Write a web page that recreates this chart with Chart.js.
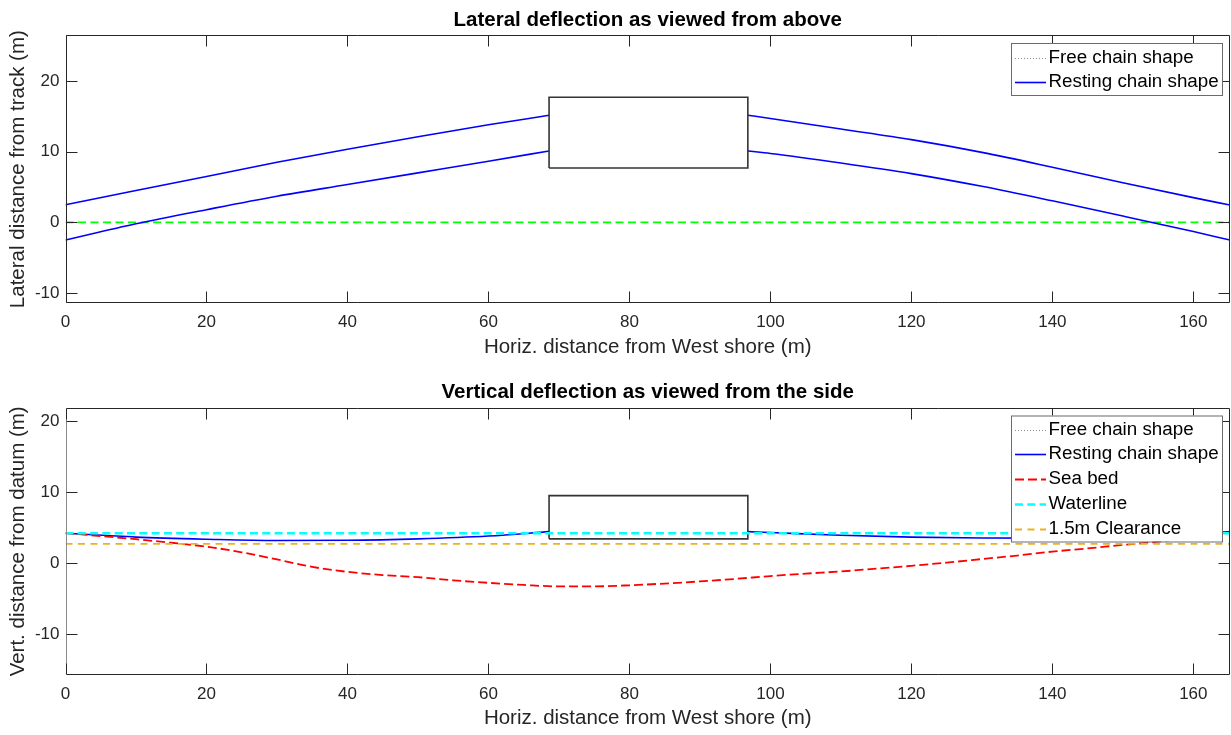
<!DOCTYPE html>
<html><head><meta charset="utf-8">
<script src="https://cdn.jsdelivr.net/npm/chart.js@4.4.1/dist/chart.umd.min.js"></script>
<style>
html,body{margin:0;padding:0;background:#fff;overflow:hidden}
#wrap{position:relative;width:1231px;height:735px;background:#fff}
canvas{position:absolute;left:0}
#c1{top:0}
#c2{top:368px}
</style></head><body>
<div id="wrap">
<canvas id="c1" width="1231" height="368"></canvas>
<canvas id="c2" width="1231" height="367"></canvas>
</div>
<script>
// ---------- data ----------
const X_MIN = 0, X_MAX = 165.2;
const xTicks = [0, 20, 40, 60, 80, 100, 120, 140, 160];
const yTicksTop = [-10, 0, 10, 20];
const yTicksBottom = [-10, 0, 10, 20];
const yRangeTop = [-11.44, 26.5];
const yRangeBottom = [-15.8, 21.9];

const topTitle = 'Lateral deflection as viewed from above';
const topYLabel = 'Lateral distance from track (m)';
const bottomTitle = 'Vertical deflection as viewed from the side';
const bottomYLabel = 'Vert. distance from datum (m)';
const xLabel = 'Horiz. distance from West shore (m)';

const topLegendLabels = ['Free chain shape', 'Resting chain shape'];
const bottomLegendLabels = ['Free chain shape', 'Resting chain shape', 'Sea bed', 'Waterline', '1.5m Clearance'];

// lateral (top) chart
const latUpperLeftX = [0, 10, 20, 30, 40, 50, 60, 68.6];
const latUpperLeftY = [2.5, 4.5, 6.5, 8.5, 10.35, 12.1, 13.8, 15.15];
const latLowerLeftX = [0, 10, 20, 30, 40, 50, 60, 68.6];
const latLowerLeftY = [-2.5, -0.2, 1.8, 3.7, 5.35, 7.0, 8.65, 10.1];
const latUpperRightX = [96.8, 100, 110, 120, 130, 140, 150, 160, 165.2];
const latUpperRightY = [15.15, 14.7, 13.2, 11.7, 9.9, 7.8, 5.6, 3.5, 2.45];
const latLowerRightX = [96.8, 100, 110, 120, 130, 140, 150, 160, 165.2];
const latLowerRightY = [10.1, 9.75, 8.4, 6.9, 5.1, 3.05, 0.9, -1.3, -2.5];
const trackX = [0, 165.2];
const trackY = [0, 0];
const latBoxX = [68.6, 68.6, 96.8, 96.8, 68.6];
const latBoxY = [7.7, 17.7, 17.7, 7.7, 7.7];

// vertical (bottom) chart
const vertLeftX = [0, 10, 20, 30, 40, 50, 60, 68.6];
const vertLeftY = [4.2, 3.65, 3.35, 3.17, 3.2, 3.4, 3.8, 4.42];
const vertRightX = [96.8, 100, 110, 120, 130, 140, 150, 160, 165.2];
const vertRightY = [4.42, 4.3, 3.9, 3.65, 3.52, 3.5, 3.7, 4.1, 4.45];
const seabedX = [0, 5, 10, 15, 20, 25, 30, 35, 40, 45, 50, 55, 60, 65, 70, 75, 80, 85, 90, 95, 100, 105, 110, 115, 120, 125, 130, 135, 140, 145, 150, 155, 160, 165.2];
const seabedY = [4.2, 3.8, 3.35, 2.85, 2.3, 1.5, 0.5, -0.55, -1.25, -1.7, -2.0, -2.45, -2.8, -3.1, -3.3, -3.3, -3.15, -2.9, -2.6, -2.25, -1.85, -1.5, -1.2, -0.8, -0.4, 0.05, 0.55, 1.05, 1.6, 2.05, 2.55, 3.0, 3.7, 4.5];
const waterX = [0, 165.2];
const waterY = [4.2, 4.2];
const clearX = [0, 165.2];
const clearY = [2.7, 2.7];
const vertBoxX = [68.6, 68.6, 96.8, 96.8, 68.6];
const vertBoxY = [3.4, 9.5, 9.5, 3.4, 3.4];

// ---------- helpers ----------
function pts(xs, ys) { return xs.map((x, i) => ({x: x, y: ys[i]})); }
function segs() {
  const out = [];
  for (let i = 0; i < arguments.length; i += 2) {
    if (out.length) out.push({x: arguments[i][0], y: null});
    out.push(...pts(arguments[i], arguments[i + 1]));
  }
  return out;
}

const FONT = "'Liberation Sans', Arial, Helvetica, sans-serif";
const TXT = '#262626';
const ST = {
  free: {color: '#8c8c8c', width: 1, dash: [1, 2]},
  rest: {color: '#0000ff', width: 1.6, dash: []},
  track: {color: '#00ff00', width: 1.8, dash: [8, 4.5]},
  box: {color: '#333333', width: 1.6, dash: []},
  sea: {color: '#ff0000', width: 1.8, dash: [9, 4]},
  water: {color: '#00ffff', width: 2.6, dash: [8, 4.3]},
  clear: {color: '#edb120', width: 1.8, dash: [7, 5.5]}
};

function ds(data, st, curve) {
  return {
    data: data, showLine: true, pointRadius: 0, pointHoverRadius: 0,
    borderColor: st.color, borderWidth: st.width, borderDash: st.dash,
    backgroundColor: st.color, fill: false, spanGaps: false,
    tension: curve ? 0.4 : 0, cubicInterpolationMode: curve ? 'monotone' : 'default',
    borderCapStyle: 'butt', borderJoinStyle: 'miter'
  };
}

const framePlugin = {
  id: 'frame',
  afterDatasetsDraw(chart, args, opts) {
    const ctx = chart.ctx, a = chart.chartArea;
    const xs = chart.scales.x, ys = chart.scales.y;
    const L = Math.round(a.left) + 0.5, R = Math.round(a.right) - 0.5;
    const T = Math.round(a.top) + 0.5, B = Math.round(a.bottom) - 0.5;
    ctx.save();
    ctx.lineWidth = 1;
    ctx.setLineDash([]);
    ctx.strokeStyle = TXT;
    ctx.beginPath();
    ctx.moveTo(L, B); ctx.lineTo(R, B); ctx.lineTo(R, T); ctx.lineTo(L, T);
    ctx.stroke();
    ctx.strokeStyle = opts.leftColor || TXT;
    ctx.beginPath(); ctx.moveTo(L, T); ctx.lineTo(L, B); ctx.stroke();
    ctx.strokeStyle = TXT;
    const tl = 11;
    ctx.beginPath();
    opts.xTicks.forEach(v => {
      const p = Math.round(xs.getPixelForValue(v)) + 0.5;
      ctx.moveTo(p, B); ctx.lineTo(p, B - tl);
      ctx.moveTo(p, T); ctx.lineTo(p, T + tl);
    });
    opts.yTicks.forEach(v => {
      const p = Math.round(ys.getPixelForValue(v)) + 0.5;
      ctx.moveTo(L, p); ctx.lineTo(L + tl, p);
      ctx.moveTo(R, p); ctx.lineTo(R - tl, p);
    });
    ctx.stroke();

    // title
    ctx.fillStyle = '#000';
    ctx.font = 'bold 20.5px ' + FONT;
    ctx.textAlign = 'center';
    ctx.textBaseline = 'alphabetic';
    ctx.fillText(opts.title, (a.left + a.right) / 2, opts.titleY);

    // legend
    const lg = opts.legend;
    ctx.fillStyle = '#fff';
    ctx.fillRect(lg.x, lg.y, lg.w, lg.h);
    ctx.strokeStyle = '#6b6b6b';
    ctx.lineWidth = 1;
    ctx.strokeRect(lg.x + 0.5, lg.y + 0.5, lg.w, lg.h);
    ctx.font = '18.8px ' + FONT;
    ctx.textAlign = 'left';
    ctx.textBaseline = 'middle';
    lg.labels.forEach((lab, i) => {
      const st = lg.styles[i];
      const cy = lg.rowY[i];
      ctx.save();
      ctx.strokeStyle = st.color;
      ctx.lineWidth = st.width;
      ctx.setLineDash(st.dash);
      ctx.beginPath();
      ctx.moveTo(lg.x + 4, Math.round(cy) + 0.5);
      ctx.lineTo(lg.x + 35, Math.round(cy) + 0.5);
      ctx.stroke();
      ctx.restore();
      ctx.fillStyle = '#000';
      ctx.fillText(lab, lg.x + 37.5, cy);
    });
    ctx.restore();
  }
};

function makeOptions(cfg) {
  return {
    responsive: false, animation: false, devicePixelRatio: 1,
    layout: {padding: {top: cfg.top, right: 1, left: 0, bottom: 0}},
    plugins: {
      legend: {display: false}, tooltip: {enabled: false}, title: {display: false},
      frame: cfg.frame
    },
    scales: {
      x: {
        type: 'linear', min: X_MIN, max: X_MAX,
        afterBuildTicks: s => { s.ticks = xTicks.map(v => ({value: v})); },
        afterFit: s => { s.height = cfg.xh; },
        grid: {display: false, drawTicks: false}, border: {display: false},
        ticks: {padding: 9, autoSkip: false, maxRotation: 0, color: TXT, font: {family: FONT, size: 17}},
        title: {display: true, text: xLabel, color: TXT, font: {family: FONT, size: 20.5}, padding: {top: 0, bottom: cfg.xtpad}}
      },
      y: {
        type: 'linear', min: cfg.yr[0], max: cfg.yr[1],
        afterBuildTicks: s => { s.ticks = cfg.yTicks.map(v => ({value: v})); },
        afterFit: s => { s.width = 65.5; },
        grid: {display: false, drawTicks: false}, border: {display: false},
        ticks: {padding: 6, autoSkip: false, color: TXT, font: {family: FONT, size: 17}},
        title: {display: true, text: cfg.ylabel, color: TXT, font: {family: FONT, size: 20.5}, padding: {top: 6.5, bottom: 0}}
      }
    }
  };
}

// ---------- top chart ----------
new Chart(document.getElementById('c1'), {
  type: 'scatter',
  data: {
    datasets: [
      ds(pts(latBoxX, latBoxY), ST.box, false),
      ds(segs(latUpperLeftX, latUpperLeftY, latLowerLeftX, latLowerLeftY, latUpperRightX, latUpperRightY, latLowerRightX, latLowerRightY), ST.rest, true),
      ds([], ST.free, false),
      ds(pts(trackX, trackY), ST.track, false)
    ]
  },
  options: makeOptions({
    top: 35, xh: 64.7, xtpad: 8.5, yr: yRangeTop, yTicks: yTicksTop, ylabel: topYLabel,
    frame: {
      xTicks: xTicks, yTicks: yTicksTop, title: topTitle, titleY: 26,
      legend: {x: 1011, y: 43, w: 211, h: 52, labels: topLegendLabels, styles: [ST.free, ST.rest], rowY: [58.3, 82.3]}
    }
  }),
  plugins: [framePlugin]
});

// ---------- bottom chart ----------
new Chart(document.getElementById('c2'), {
  type: 'scatter',
  data: {
    datasets: [
      ds(pts(waterX, waterY), ST.water, false),
      ds(pts(clearX, clearY), ST.clear, false),
      ds(pts(seabedX, seabedY), ST.sea, true),
      ds(pts(vertBoxX, vertBoxY), ST.box, false),
      ds(segs(vertLeftX, vertLeftY, vertRightX, vertRightY), ST.rest, true),
      ds([], ST.free, false)
    ]
  },
  options: makeOptions({
    top: 39.7, xh: 60, xtpad: 4.5, yr: yRangeBottom, yTicks: yTicksBottom, ylabel: bottomYLabel,
    frame: {
      xTicks: xTicks, yTicks: yTicksBottom, title: bottomTitle, titleY: 30, leftColor: '#8a8a8a',
      legend: {x: 1011, y: 47.5, w: 211, h: 126, labels: bottomLegendLabels,
        styles: [ST.free, ST.rest, ST.sea, ST.water, ST.clear], rowY: [62, 86.3, 111, 136, 161]}
    }
  }),
  plugins: [framePlugin]
});
</script>
</body></html>
